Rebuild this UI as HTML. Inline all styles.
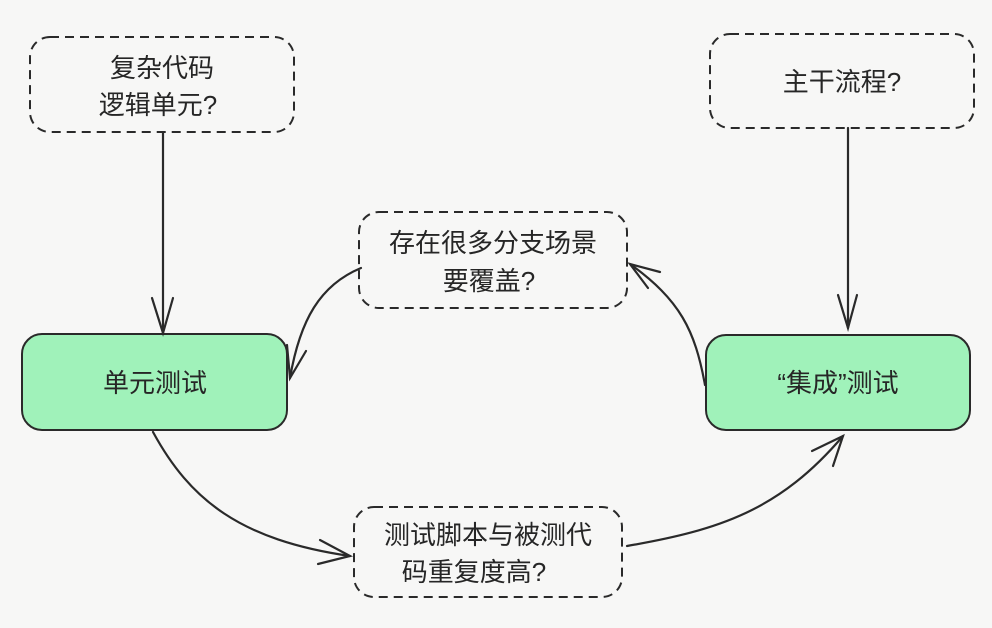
<!DOCTYPE html>
<html><head><meta charset="utf-8"><style>
html,body{margin:0;padding:0;background:#f7f7f6;}
svg{display:block;}
text{font-family:"Liberation Sans","Noto Sans CJK SC",sans-serif;font-size:26px;fill:#262626;text-anchor:middle;}
</style></head><body>
<svg width="992" height="628" viewBox="0 0 992 628" xmlns="http://www.w3.org/2000/svg">
<rect width="992" height="628" fill="#f7f7f6"/>
<g fill="none" stroke="#2a2a2a" stroke-width="2" stroke-dasharray="9 6">
<rect x="30" y="37" width="264" height="95" rx="20"/>
<rect x="710" y="34" width="264" height="94" rx="20"/>
<rect x="359" y="212" width="268" height="96" rx="20"/>
<rect x="354" y="507" width="268" height="90" rx="20"/>
</g>
<g fill="#a0f2ba" stroke="#2a2a2a" stroke-width="2">
<rect x="22" y="334" width="265" height="96" rx="20"/>
<rect x="706" y="335" width="264" height="95" rx="20"/>
</g>
<g fill="none" stroke="#2a2a2a" stroke-width="2.2" stroke-linecap="round">
<path d="M163,133 L163,333"/><path d="M152,298 L163,333 L173,298"/>
<path d="M848,128 L848,328"/><path d="M838,295 L848,328 L857,295"/>
<path d="M361,268 C320,285 300,320 290,378"/><path d="M287,345 L290,378 L306,351"/>
<path d="M705,385 C695,330 680,300 630,264"/><path d="M660,272 L630,264 L648,288"/>
<path d="M153,432 C190,500 240,540 350,556"/><path d="M320,540 L350,556 L318,564"/>
<path d="M627,546 C720,530 780,510 843,436"/><path d="M812,451 L843,436 L833,466"/>
</g>
<text x="162" y="77">复杂代码</text>
<text x="158" y="114">逻辑单元?</text>
<text x="842" y="91">主干流程?</text>
<text x="493" y="252">存在很多分支场景</text>
<text x="489" y="290">要覆盖?</text>
<text x="488" y="544">测试脚本与被测代</text>
<text x="474" y="581">码重复度高?</text>
<text x="155" y="392">单元测试</text>
<text x="838" y="392">“集成”测试</text>
</svg>
</body></html>
